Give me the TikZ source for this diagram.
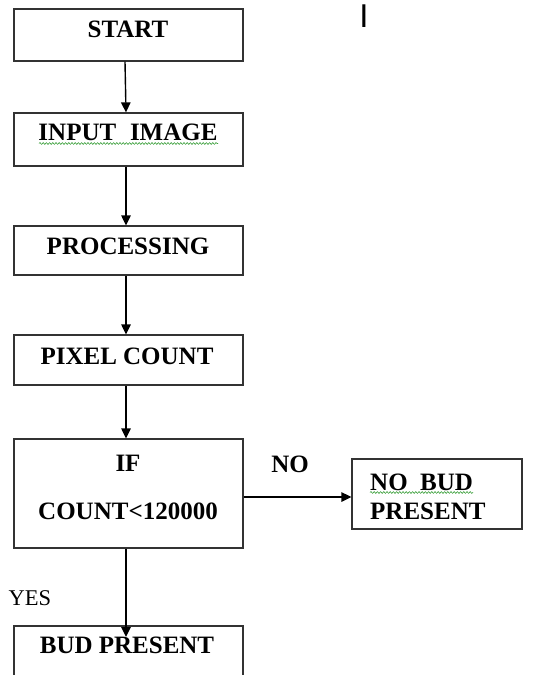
\documentclass[tikz,border=0pt]{standalone}
\usepackage{fontspec}
\setmainfont{Liberation Serif}
\newfontfamily\cursorfont{Liberation Sans}
\usetikzlibrary{arrows.meta,decorations.pathmorphing}
\definecolor{edgegray}{HTML}{333333}
\definecolor{spellgreen}{HTML}{3CA03C}
\tikzset{
  box/.style={draw=edgegray, line width=1.3pt, rectangle, inner sep=0pt},
  lbl/.style={anchor=base, inner sep=0pt, font=\fontsize{25}{29}\selectfont\bfseries},
  lblreg/.style={anchor=base, inner sep=0pt, font=\fontsize{22.5}{26}\selectfont},
  conn/.style={draw=black, line width=1.4pt, -{Triangle[length=10pt,width=9.5pt]}},
  squig/.style={draw=spellgreen, line width=0.6pt, decorate, decoration={snake, amplitude=0.9pt, segment length=3.2pt}}
}
\begin{document}
\begin{tikzpicture}[x=1pt,y=-1pt]
\useasboundingbox (0,0) rectangle (543,675);
\clip (0,0) rectangle (543,675);
% boxes
\node[box, minimum width=229pt, minimum height=52pt] (start) at (128.5,35) {};
\node[box, minimum width=229pt, minimum height=53pt] (input) at (128.5,139.5) {};
\node[box, minimum width=229pt, minimum height=49pt] (proc) at (128.5,250.5) {};
\node[box, minimum width=229pt, minimum height=50pt] (pix) at (128.5,360) {};
\node[box, minimum width=229pt, minimum height=109pt] (cond) at (128.5,493.5) {};
\node[box, minimum width=170pt, minimum height=70pt] (nobud) at (437,494) {};
\node[box, minimum width=229pt, minimum height=100pt] (bud) at (128.5,676) {};
% texts
\node[lbl] (tstart) at (128,37) {START};
\node[lbl] (tinput) at (128,140) {INPUT\hspace{0.55em}IMAGE};
\node[lbl] (tproc) at (128,254) {PROCESSING};
\node[lbl] (tpix) at (127,364) {PIXEL COUNT};
\node[lbl] (tif) at (128,471) {IF};
\node[lbl] (tcount) at (128,519) {COUNT<120000};
\node[lbl] (tno) at (290,472) {NO};
\node[lbl, anchor=base west] (tnobud1) at (370,490) {NO\hspace{0.5em}BUD};
\node[lbl, anchor=base west] (tnobud2) at (370,519) {PRESENT};
\node[lblreg] (tyes) at (30,605) {YES};
\node[lbl] (tbud) at (127,653) {BUD PRESENT};
\node[anchor=base, inner sep=0pt, font=\cursorfont\fontsize{33}{36}\selectfont] (cursor) at (364,27) {I};
% spell-check squiggles
\draw[squig] (39,143.5) -- (218,143.5);
\draw[squig] (370,492.5) -- (473,492.5);
% connectors
\coordinate (a1) at (125,0);
\coordinate (a2) at (126,0);
\draw[conn] (start.south -| a1) -- (input.north -| a2);
\draw[conn] (input.south -| a2) -- (proc.north -| a2);
\draw[conn] (proc.south -| a2) -- (pix.north -| a2);
\draw[conn] (pix.south -| a2) -- (cond.north -| a2);
\coordinate (hy) at (0,497);
\draw[conn] (cond.east |- hy) -- (nobud.west |- hy);
\coordinate (budtip) at (126,637);
\draw[conn] (cond.south -| budtip) -- (budtip);
\end{tikzpicture}
\end{document}
